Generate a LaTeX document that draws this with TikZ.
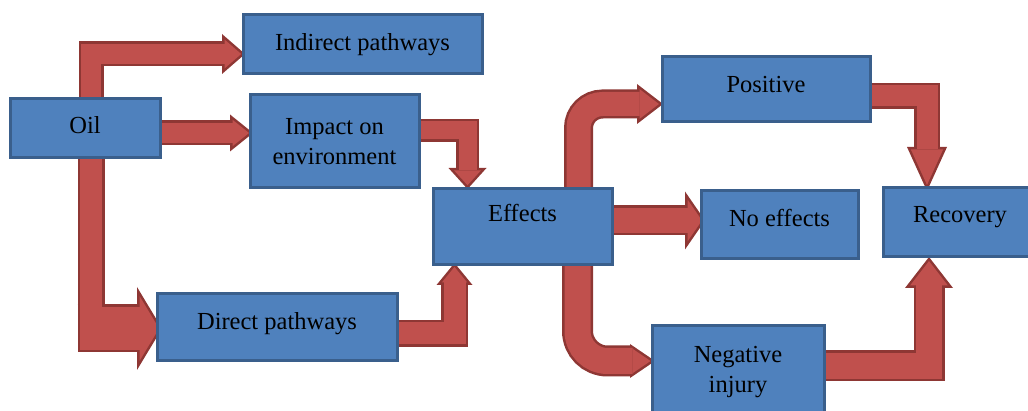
\documentclass[tikz,border=0pt]{standalone}
\usepackage{fontspec}
\setmainfont{Liberation Serif}
\usetikzlibrary{calc,arrows.meta,backgrounds}

\definecolor{boxfill}{HTML}{4F81BD}
\definecolor{boxedge}{HTML}{3A5F8C}
\definecolor{arrowred}{HTML}{C0504D}
\definecolor{arrowdark}{HTML}{8E3734}

% outline of the block arrows
\newcommand{\edgew}{2.5}
% [path options]{shaft width}{head width}{head length}{path}
\newcommand{\blockarrow}[5][]{%
  \pgfmathsetmacro\tipang{atan(#3/(2*#4))}%
  \pgfmathsetmacro\tipback{\edgew/sin(\tipang)}%
  \pgfmathsetmacro\innerlen{#4-\tipback-\edgew}%
  \pgfmathsetmacro\innerwid{#3*(#4-\edgew)/#4-2*\edgew/cos(\tipang)}%
  \pgfmathsetmacro\outerw{#2+2*\edgew}%
  \draw[draw=arrowdark, #1, line width=\outerw,
    -{Triangle[width=#3pt, length=#4pt, line width=0pt]}] #5;
  \draw[draw=arrowred, #1, line width=#2, shorten <=\edgew, shorten >=\tipback,
    -{Triangle[width=\innerwid pt, length=\innerlen pt, line width=0pt]}] #5;
}

\begin{document}
\begin{tikzpicture}[
    x=1pt, y=-1pt,
    box/.style={draw=boxedge, fill=boxfill, line width=3, outer sep=0, inner sep=0,
      font=\fontsize{24.5}{30.5}\selectfont},
    onerow/.style={text height=17, text depth=#1}
]
\useasboundingbox (0,0) rectangle (1028,411);

\node[box, onerow=6, minimum width=150, minimum height=59] (oil) at (85,128.5) {Oil};
\node[box, onerow=4, minimum width=239, minimum height=59] (indirect) at (362.5,44.5) {Indirect pathways};
\node[box, align=center, minimum width=169, minimum height=93] (impact) at (334.5,141.5) {Impact on\\environment};
\node[box, onerow=12, minimum width=240, minimum height=67] (direct) at (277,327.5) {Direct pathways};
\node[box, onerow=27, minimum width=179, minimum height=76] (effects) at (522.5,227) {Effects};
\node[box, onerow=10, minimum width=208, minimum height=65] (positive) at (766,89.5) {Positive};
\node[box, onerow=13, minimum width=157, minimum height=68] (noeff) at (779.5,225) {No effects};
\node[box, onerow=16, minimum width=154, minimum height=69] (recovery) at (960,222.5) {Recovery};
\node[box, align=center, minimum width=172, minimum height=92] (negative) at (738,372) {Negative\\injury};

\begin{pgfonlayer}{background}
% from oil
\blockarrow{20}{40}{23}{($(oil.north)+(6,10)$) |- ($(indirect.west)+(2,9.5)$)}
\blockarrow{20}{37}{23}{($(oil.east)+(-10,4.5)$) -- ($(impact.west)+(3,-8.5)$)}
\draw[draw=arrowdark, line width=27] ($(oil.south)+(6,-10)$) -- ($(oil.south |- direct.west)+(6,25)$);
\blockarrow{43}{83}{25}{($(oil.south |- direct.west)+(-7.5,1)$) -- ($(direct.west)+(5,1)$)}
\draw[draw=arrowred, line width=22] ($(oil.south)+(6,-10)$) -- ($(oil.south |- direct.west)+(6,22.5)$);
% into effects
\blockarrow{18}{38}{21}{($(impact.east)+(-10,-11)$) -| ($(effects.north)+(-55,0)$)}
\blockarrow{22}{36}{22}{($(direct.east)+(-10,6)$) -| ($(effects.south)+(-68,-2)$)}
% out of effects
\blockarrow[rounded corners=24]{24}{40}{26}{($(effects.north)+(56,10)$) |- ($(positive.west)+(1,14.5)$)}
\blockarrow{25}{58}{20}{($(effects.east)+(-10,-6.5)$) -- ($(noeff.west)+(4,-4.5)$)}
\blockarrow[rounded corners=30]{26}{34}{25}{($(effects.south)+(55,-10)$) |- ($(negative.west)+(3,-11)$)}
% to recovery
\blockarrow{21}{40}{44}{($(positive.east)+(-10,6.5)$) -| ($(recovery.north)+(-33,3)$)}
\blockarrow{26}{48}{31}{($(negative.east)+(-10,-6)$) -| ($(recovery.south)+(-31,0)$)}
\end{pgfonlayer}
\end{tikzpicture}
\end{document}
